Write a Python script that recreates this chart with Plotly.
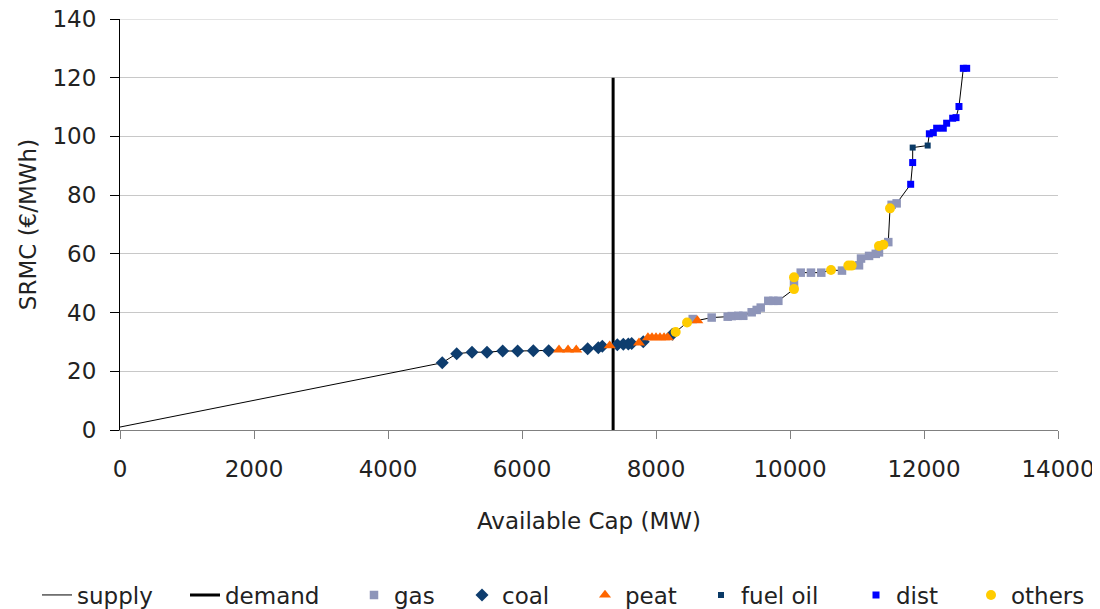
import plotly.graph_objects as go

# ---- data ----
supply_start_x = [0]
supply_start_y = [1.0]

coal_x = [4810, 5025, 5254, 5478, 5712, 5935, 6169, 6398, 6980, 7139, 7199, 7423, 7512, 7587, 7637, 7810, 8244]
coal_y = [22.9, 26.0, 26.5, 26.5, 26.9, 26.9, 27.0, 27.0, 27.7, 28.0, 28.5, 29.0, 29.2, 29.3, 29.5, 30.1, 32.6]

peat_x = [6552, 6687, 6810, 7309, 7746, 7880, 7940, 8000, 8060, 8120, 8175, 8617]
peat_y = [27.3, 27.3, 27.3, 28.7, 29.7, 31.5, 31.5, 31.5, 31.5, 31.5, 31.5, 37.3]

gas_x = [8548, 8831, 9070, 9130, 9229, 9303, 9428, 9503, 9563, 9676, 9751, 9826, 10060,
         10160, 10313, 10467, 10776, 11030, 11060, 11180, 11280, 11328, 11467, 11517, 11592]
gas_y = [37.8, 38.3, 38.6, 38.8, 38.9, 38.9, 40.1, 40.9, 41.7, 44.0, 44.0, 44.0, 50.0,
         53.6, 53.6, 53.6, 54.3, 56.1, 58.4, 59.3, 60.0, 60.5, 64.0, 76.7, 77.2]

others_x = [8294, 8463, 10060, 10060, 10612, 10871, 10920, 11328, 11393, 11493]
others_y = [33.4, 36.6, 48.0, 52.0, 54.5, 56.0, 56.0, 62.7, 63.1, 75.5]

fuel_oil_x = [11831, 12055]
fuel_oil_y = [96.2, 96.9]

dist_x = [11801, 11831, 12080, 12139, 12189, 12288, 12338, 12428, 12478, 12522, 12587, 12637]
dist_y = [83.7, 91.1, 100.9, 101.3, 102.8, 102.8, 104.5, 106.2, 106.4, 110.2, 123.2, 123.2]

demand_x = [7360, 7360]
demand_y = [0, 120]

x_ticks = [0, 2000, 4000, 6000, 8000, 10000, 12000, 14000]
y_ticks = [0, 20, 40, 60, 80, 100, 120, 140]

series_names = ["supply", "demand", "gas", "coal", "peat", "fuel oil", "dist", "others"]

# supply curve = all plants in merit order
pts = list(zip(supply_start_x, supply_start_y))
for xs, ys in [(coal_x, coal_y), (peat_x, peat_y), (gas_x, gas_y), (others_x, others_y),
               (fuel_oil_x, fuel_oil_y), (dist_x, dist_y)]:
    pts += list(zip(xs, ys))
pts.sort()
supply_x = [p[0] for p in pts]
supply_y = [p[1] for p in pts]

FONT = "DejaVu Sans"
TXT = "#222222"
GRID = "#c8c8c8"
# the page body has an 8px margin, so the figure is drawn 8px in from the corner
OFF = 8
W, H = 1100 - OFF, 609 - OFF
L, R, T, B = 120 - OFF, 42, 19 - OFF, 179
pw, ph = W - L - R, H - T - B

fig = go.Figure()
fig.add_trace(go.Scatter(x=supply_x, y=supply_y, mode="lines", name=series_names[0],
                         line=dict(color="black", width=1), legend="legend"))
fig.add_trace(go.Scatter(x=demand_x, y=demand_y, mode="lines", name=series_names[1],
                         line=dict(color="black", width=3), legend="legend2"))
fig.add_trace(go.Scatter(x=gas_x, y=gas_y, mode="markers", name=series_names[2],
                         marker=dict(symbol="square", size=8.5, color="#8e95b9"), legend="legend3"))
fig.add_trace(go.Scatter(x=coal_x, y=coal_y, mode="markers", name=series_names[3],
                         marker=dict(symbol="diamond", size=10, color="#0e3d6e"), legend="legend4"))
fig.add_trace(go.Scatter(x=peat_x, y=peat_y, mode="markers", name=series_names[4],
                         marker=dict(symbol="triangle-up", size=10.5, color="#ff6600"), legend="legend5"))
fig.add_trace(go.Scatter(x=fuel_oil_x, y=fuel_oil_y, mode="markers", name=series_names[5],
                         marker=dict(symbol="square", size=6, color="#0a3a66"), legend="legend6"))
fig.add_trace(go.Scatter(x=dist_x, y=dist_y, mode="markers", name=series_names[6],
                         marker=dict(symbol="square", size=7, color="#0000ff"), legend="legend7"))
fig.add_trace(go.Scatter(x=others_x, y=others_y, mode="markers", name=series_names[7],
                         marker=dict(symbol="circle", size=10, color="#ffcc00"), legend="legend8"))

# legend item left edges (page pixels) – one single-entry legend per series
legend_left_px = [37, 185, 354, 462, 585, 701, 856, 971]
legend_y = (T + ph - (595 - OFF)) / ph
legends = {}
for i, px in enumerate(legend_left_px):
    key = "legend" if i == 0 else f"legend{i + 1}"
    legends[key] = dict(orientation="h", x=(px - OFF - L) / pw, xanchor="left",
                        y=legend_y, yanchor="middle", bgcolor="rgba(0,0,0,0)",
                        font=dict(family=FONT, size=23, color=TXT))

y_max = y_ticks[-1]
fig.update_layout(
    width=W, height=H,
    margin=dict(l=L, r=R, t=T, b=B, autoexpand=False),
    paper_bgcolor="white", plot_bgcolor="white",
    font=dict(family=FONT, size=23, color=TXT),
    showlegend=True,
    **legends,
    # top gridline (plotly drops the gridline lying on the plot edge)
    shapes=[dict(type="line", xref="paper", x0=0, x1=1, yref="y", y0=y_max, y1=y_max,
                 line=dict(color=GRID, width=1), layer="below")],
    xaxis=dict(range=[0, 14000], tickvals=x_ticks, ticktext=[str(v) for v in x_ticks],
               showgrid=False, zeroline=False, showline=True, linecolor="#808080", linewidth=1,
               ticks="outside", ticklen=8, tickcolor="#808080", ticklabelstandoff=10,
               automargin=False, ticklabeloverflow="allow",
               title=dict(text="Available Cap (MW)", standoff=32, font=dict(size=23))),
    yaxis=dict(range=[0, y_max], tickvals=y_ticks, ticktext=[str(v) for v in y_ticks],
               showgrid=True, gridcolor=GRID, gridwidth=1, zeroline=False,
               showline=True, linecolor="black", linewidth=1,
               ticks="outside", ticklen=9, tickcolor="black", ticklabelstandoff=9,
               automargin=False, ticklabeloverflow="allow",
               title=dict(text="SRMC (€/MWh)", standoff=9, font=dict(size=23))),
)

fig.write_html("out.html")
